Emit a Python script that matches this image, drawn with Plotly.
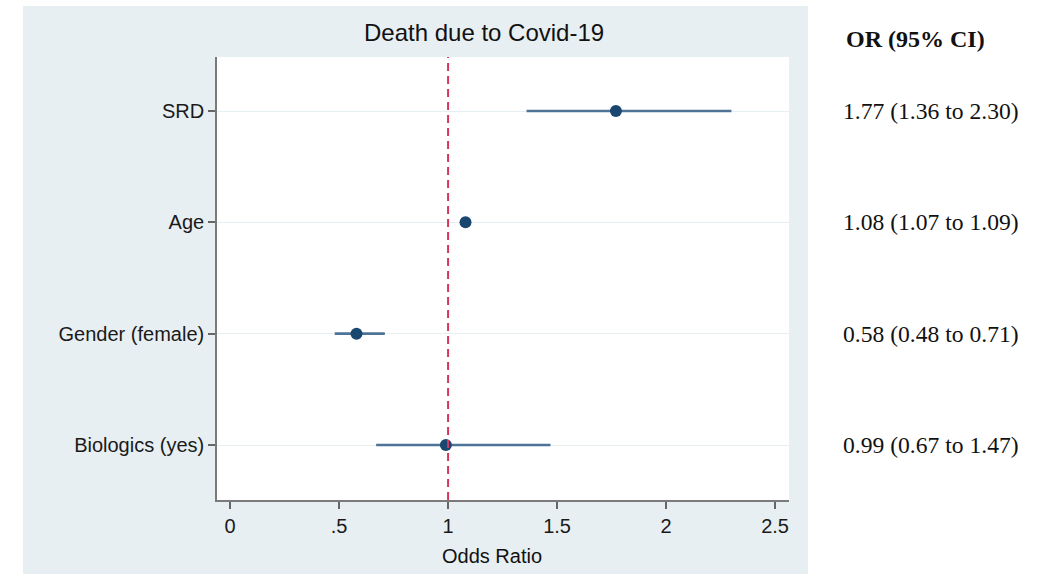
import plotly.graph_objects as go

# Odds ratios with 95% confidence intervals
variables = ["SRD", "Age", "Gender (female)", "Biologics (yes)"]
odds_ratio = [1.77, 1.08, 0.58, 0.99]
ci_low = [1.36, 1.07, 0.48, 0.67]
ci_high = [2.30, 1.09, 0.71, 1.47]
row_pos = [4, 3, 2, 1]

x_tickvals = [0, 0.5, 1, 1.5, 2, 2.5]
x_ticktext = ["0", ".5", "1", "1.5", "2", "2.5"]

W, H = 1045, 574
L, R, T, B = 217, 256, 57, 74
pw, ph = W - L - R, H - T - B

SANS = "Liberation Sans, Arial"
SERIF = "Liberation Serif, Times New Roman"


def px_x(p):
    return (p - L) / pw


def px_y(p):
    return (H - B - p) / ph


fig = go.Figure()

# confidence interval bars + point estimates
fig.add_trace(go.Scatter(
    x=odds_ratio,
    y=row_pos,
    mode="markers",
    marker=dict(color="#1a476f", size=12),
    error_x=dict(
        type="data",
        symmetric=False,
        array=[h - o for h, o in zip(ci_high, odds_ratio)],
        arrayminus=[o - l for o, l in zip(odds_ratio, ci_low)],
        color="#4e7396",
        thickness=2.6,
        width=0,
    ),
    showlegend=False,
    hoverinfo="skip",
))

shapes = [
    # outer graph region
    dict(type="rect", xref="paper", yref="paper", layer="below",
         x0=px_x(23), x1=px_x(808), y0=px_y(600), y1=px_y(6),
         fillcolor="#e8eff2", line=dict(width=0)),
    # plot region
    dict(type="rect", xref="paper", yref="paper", layer="below",
         x0=0, x1=1, y0=0, y1=1,
         fillcolor="white", line=dict(width=0)),
    # reference line at OR = 1
    dict(type="line", xref="x", yref="paper", x0=1, x1=1, y0=0, y1=1,
         line=dict(color="#d6365e", width=2, dash="8px,5px")),
]


def label(text, x, y, size, family, yref="paper"):
    return dict(text=text, xref="paper", yref=yref, x=x, y=y,
                xanchor="center", yanchor="middle", showarrow=False,
                font=dict(family=family, size=size, color="#111111"))


annotations = [
    label("Death due to Covid-19", px_x(484), px_y(33), 24, SANS),
    label("Odds Ratio", px_x(492), px_y(556), 20, SANS),
    label("<b>OR (95% CI)</b>", px_x(915), px_y(39), 24, SERIF),
]
for o, lo, hi, yp in zip(odds_ratio, ci_low, ci_high, row_pos):
    annotations.append(label(f"{o:.2f} ({lo:.2f} to {hi:.2f})",
                             px_x(931), yp, 23.6, SERIF, yref="y"))

fig.update_layout(
    width=W, height=H,
    margin=dict(l=L, r=R, t=T, b=B, pad=0),
    paper_bgcolor="white",
    plot_bgcolor="rgba(0,0,0,0)",
    shapes=shapes,
    annotations=annotations,
    xaxis=dict(
        range=[-0.06, 2.564],
        tickvals=x_tickvals, ticktext=x_ticktext,
        showgrid=False, zeroline=False,
        showline=True, linecolor="#7a7a7a", linewidth=1.6,
        ticks="outside", ticklen=7, tickwidth=1.5, tickcolor="#666666",
        tickfont=dict(family=SANS, size=20, color="#1a1a1a"),
        fixedrange=True,
    ),
    yaxis=dict(
        range=[0.506, 4.485],
        tickvals=row_pos, ticktext=variables,
        showgrid=True, gridcolor="#e8eff2", gridwidth=1.2,
        zeroline=False,
        showline=True, linecolor="#7a7a7a", linewidth=1.6,
        ticks="outside", ticklen=7, tickwidth=1.5, tickcolor="#666666",
        tickfont=dict(family=SANS, size=20, color="#1a1a1a"),
        fixedrange=True,
    ),
)

fig.write_html("out.html")
